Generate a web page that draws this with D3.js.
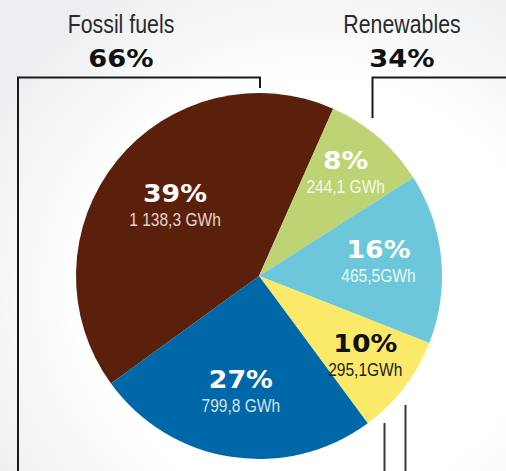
<!DOCTYPE html>
<html>
<head>
<meta charset="utf-8">
<script src="https://cdn.jsdelivr.net/npm/d3@7"></script>
<style>
  html, body { margin: 0; padding: 0; background: #fff; }
  svg { display: block; }
</style>
</head>
<body>
<svg id="chart" width="506" height="471"></svg>
<script>
// ---------------- DATA ----------------
const categories = ["fossil-1", "renew-1", "renew-2", "renew-3", "fossil-2"];
const energyGWh = [1138.3, 244.1, 465.5, 295.1, 799.8];
const energyLabels = ["1 138,3 GWh", "244,1 GWh", "465,5GWh", "295,1GWh", "799,8 GWh"];
// share of the circle each slice occupies as drawn in the reference (%)
const sliceShare = [41.6, 9.3, 15.0, 8.9, 25.1];
const groupNames = ["Fossil fuels", "Renewables"];
const groupShares = ["66%", "34%"];

// ---------------- STYLE / LAYOUT ----------------
const colors = {
  "fossil-1": "#5b200b",
  "renew-1": "#bdd374",
  "renew-2": "#6cc7da",
  "renew-3": "#fbea69",
  "fossil-2": "#0068a8"
};
const pctColor = { "renew-3": "#111" };
const subColor = {
  "fossil-1": "#e6d4cc",
  "renew-1": "#f4f8e6",
  "renew-2": "#eaf7fa",
  "renew-3": "#222",
  "fossil-2": "#d0e1ef"
};
const labelRadius = { "fossil-1": 108, "renew-1": 133, "renew-2": 120, "renew-3": 134, "fossil-2": 119 };
const narrowFont = "'Liberation Sans', Arial, sans-serif";
const narrow = 0.84;
const wide = 1.07;

const W = 506, H = 471;
const cx = 259, cy = 276, R = 183;
const startDeg = -126;

const svg = d3.select("#chart");

// background
const defs = svg.append("defs");
const grad = defs.append("radialGradient").attr("id", "bg")
  .attr("cx", "62%").attr("cy", "62%").attr("r", "75%");
grad.append("stop").attr("offset", "0%").attr("stop-color", "#ffffff");
grad.append("stop").attr("offset", "60%").attr("stop-color", "#ffffff");
grad.append("stop").attr("offset", "100%").attr("stop-color", "#eceef1");
svg.append("rect").attr("width", W).attr("height", H).attr("fill", "url(#bg)");

// pie
const data = categories.map((c, i) => ({ key: c, share: sliceShare[i], gwh: energyGWh[i], label: energyLabels[i] }));
const total = d3.sum(energyGWh);
const pie = d3.pie().sort(null).value(d => d.share)
  .startAngle(startDeg * Math.PI / 180)
  .endAngle((startDeg + 360) * Math.PI / 180);
const arcs = pie(data);
const arc = d3.arc().innerRadius(0).outerRadius(R);

const g = svg.append("g").attr("transform", `translate(${cx},${cy})`);
g.selectAll("path.slice").data(arcs).join("path")
  .attr("class", "slice")
  .attr("d", arc)
  .attr("fill", d => colors[d.data.key]);

// labels
const lab = g.selectAll("g.lab").data(arcs).join("g").attr("class", "lab")
  .attr("transform", d => {
    const r = labelRadius[d.data.key];
    const c = d3.arc().innerRadius(r).outerRadius(r).centroid(d);
    return `translate(${c[0]},${c[1]})`;
  });
lab.append("text")
  .attr("text-anchor", "middle")
  .attr("transform", `translate(0,-6) scale(${wide},1)`)
  .attr("font-family", "'DejaVu Sans', sans-serif")
  .attr("font-weight", "bold")
  .attr("font-size", 25)
  .attr("fill", d => pctColor[d.data.key] || "#fff")
  .text(d => Math.round(d.data.gwh / total * 100) + "%");
lab.append("text")
  .attr("text-anchor", "middle")
  .attr("transform", `translate(0,18) scale(${narrow},1)`)
  .attr("font-family", narrowFont)
  .attr("font-size", 18.5)
  .attr("fill", d => subColor[d.data.key])
  .text(d => d.data.label);

// group headers
const headers = [
  { name: groupNames[0], share: groupShares[0], x: 121 },
  { name: groupNames[1], share: groupShares[1], x: 402 }
];
const hg = svg.selectAll("g.head").data(headers).join("g").attr("class", "head")
  .attr("transform", d => `translate(${d.x},0)`);
hg.append("text").attr("text-anchor", "middle")
  .attr("transform", `translate(0,33) scale(${narrow - 0.02},1)`)
  .attr("font-family", narrowFont)
  .attr("font-size", 26).attr("fill", "#2a2a2a")
  .text(d => d.name);
hg.append("text").attr("text-anchor", "middle")
  .attr("transform", `translate(0,66.5) scale(${wide},1)`)
  .attr("font-family", "'DejaVu Sans', sans-serif").attr("font-weight", "bold")
  .attr("font-size", 25.5).attr("fill", "#111")
  .text(d => d.share);

// bracket lines
const bracket = svg.append("g").attr("fill", "none").attr("stroke-width", 2);
bracket.append("path").attr("stroke", "#1a1a1a")
  .attr("d", `M18,${H} V77.5 H${cx + 1} V88`);
bracket.append("path").attr("stroke", "#1a1a1a")
  .attr("d", `M372.5,118 V77.5 H${W}`);
bracket.append("path").attr("stroke", "#3a3a3a")
  .attr("d", `M384.5,423 V${H} M405.5,405 V${H}`);
</script>
</body>
</html>
